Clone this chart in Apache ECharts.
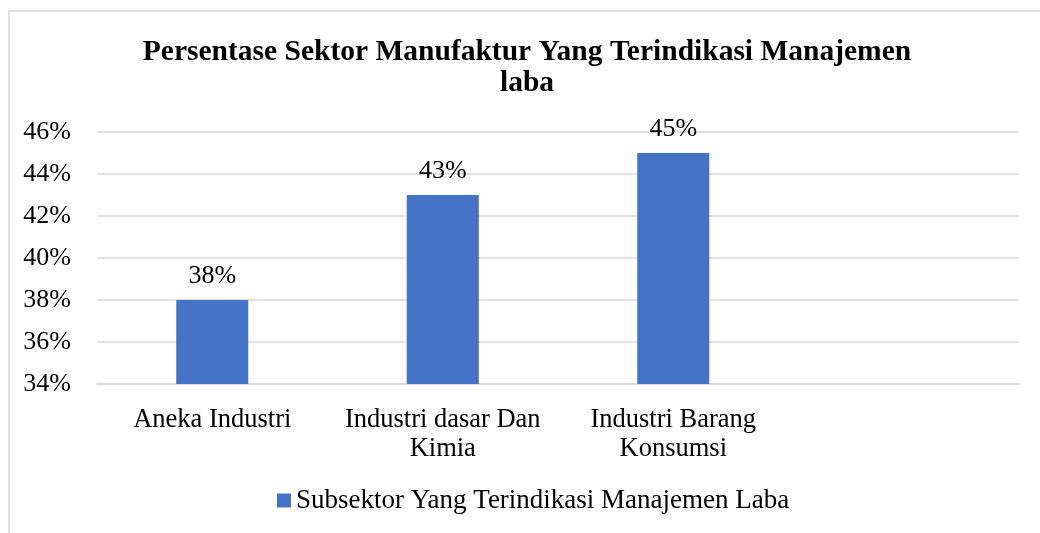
<!DOCTYPE html>
<html>
<head>
<meta charset="utf-8">
<script src="https://cdn.jsdelivr.net/npm/echarts@6/dist/echarts.min.js"></script>
<style>
html,body{margin:0;padding:0;background:#fff;}
#chart{width:1040px;height:533px;}
</style>
</head>
<body>
<div id="chart"></div>
<script>
var titleText = 'Persentase Sektor Manufaktur Yang Terindikasi Manajemen\nlaba';
var categories = ['Aneka Industri', 'Industri dasar Dan\nKimia', 'Industri Barang\nKonsumsi', ''];
var seriesName = 'Subsektor Yang Terindikasi Manajemen Laba';
var values = [38, 43, 45, null];
var yMin = 34, yMax = 46, yStep = 2;

var FONT = '"Liberation Serif", "Times New Roman", serif';
var chart = echarts.init(document.getElementById('chart'), null, {renderer: 'canvas'});
chart.setOption({
  backgroundColor: '#ffffff',
  animation: false,
  graphic: [{
    type: 'rect',
    shape: {x: 9, y: 11, width: 1100, height: 600},
    style: {fill: 'none', stroke: '#d9d9d9', lineWidth: 1.5},
    silent: true,
    z: -1
  }],
  title: {
    text: titleText,
    left: 522,
    textAlign: 'center',
    top: 32,
    textStyle: {fontFamily: FONT, fontSize: 29.5, fontWeight: 'bold', color: '#000', lineHeight: 31}
  },
  legend: {
    data: [seriesName],
    left: 272,
    top: 482,
    icon: 'rect',
    itemWidth: 14,
    itemHeight: 14,
    textStyle: {fontFamily: FONT, fontSize: 27, color: '#000', lineHeight: 26}
  },
  grid: {left: 97, right: 21, top: 132, bottom: 149, containLabel: false},
  xAxis: {
    type: 'category',
    data: categories,
    axisTick: {show: false},
    axisLine: {lineStyle: {color: '#d9d9d9', width: 1.5}},
    axisLabel: {fontFamily: FONT, fontSize: 26.5, color: '#000', lineHeight: 29, margin: 22, interval: 0}
  },
  yAxis: {
    type: 'value',
    min: yMin,
    max: yMax,
    interval: yStep,
    axisLine: {show: false},
    axisTick: {show: false},
    splitLine: {lineStyle: {color: '#d9d9d9', width: 1.5}},
    axisLabel: {fontFamily: FONT, fontSize: 26, color: '#000', margin: 26, formatter: '{value}%'}
  },
  series: [{
    name: seriesName,
    type: 'bar',
    data: values,
    barWidth: 72,
    itemStyle: {color: '#4472c4'},
    label: {
      show: true,
      position: 'top',
      distance: 11,
      fontFamily: FONT,
      fontSize: 26,
      color: '#000',
      formatter: '{c}%'
    }
  }]
});
</script>
</body>
</html>
